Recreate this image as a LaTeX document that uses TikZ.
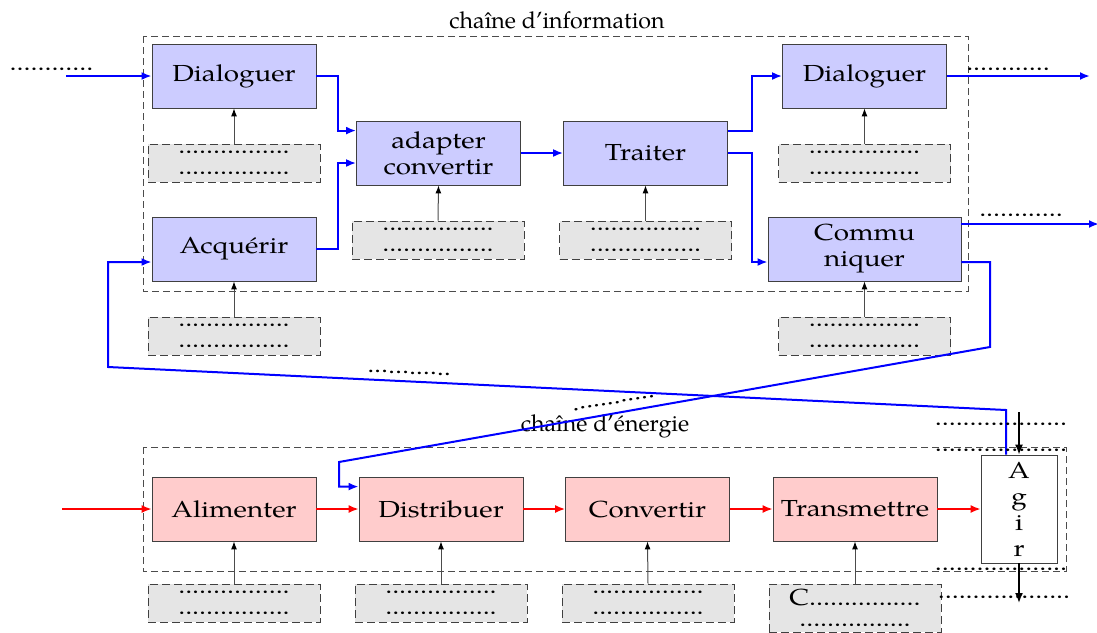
\documentclass[tikz,border=0pt]{standalone}
\usepackage{fontspec}
\setmainfont{texgyrepagella-regular.otf}
\newfontfamily\bfnt{texgyrepagella-regular.otf}[FakeStretch=1.2]
\usetikzlibrary{arrows.meta}
\newcommand{\bxf}{\bfnt\fontsize{11.6}{13}\selectfont}
\newcommand{\gxf}{\bfnt\fontsize{11.6}{10.5}\selectfont}
\newcommand{\dsix}{................}
\newcommand{\dtw}{............}
\newcommand{\dnn}{...................}
\begin{document}
\begin{tikzpicture}[x=0.5pt,y=-0.5pt,
  infobox/.style={draw=black!75, fill=blue!20, minimum width=82pt, minimum height=32pt, inner sep=0pt, align=center, font=\bxf},
  enbox/.style={infobox, fill=red!20},
  resbox/.style={draw=black!75, dash pattern=on 4pt off 2pt, fill=gray!20, minimum width=86pt, minimum height=19pt, inner sep=0pt, align=center, font=\gxf},
  cadre/.style={draw=black!70, dash pattern=on 3.3pt off 2.2pt, line width=0.5pt},
  bl/.style={blue, line width=1pt, -{Latex[length=5pt,width=4pt]}},
  rd/.style={red, line width=0.8pt, -{Latex[length=5pt,width=4pt]}},
  resarrow/.style={black!70, line width=0.5pt, -{Latex[length=4pt,width=3pt,color=black]}},
  blk/.style={black, line width=0.8pt, -{Latex[length=5pt,width=4pt]}},
  dotlab/.style={font=\bxf, inner sep=0pt, anchor=base},
  chainlab/.style={font=\fontsize{11.6}{13}\selectfont, inner sep=0pt, anchor=base},
]
\useasboundingbox (0,0) rectangle (1097,632);

% frames
\draw[cadre] (143,36) rectangle (968,291);
\draw[cadre] (143,447) rectangle (1066,571);
\node[chainlab] (tinfo) at (557,28) {chaîne d’information};
\node[chainlab] (tener) at (605,431) {chaîne d’énergie};

% information chain
\node[infobox] (dia1) at (234,76) {Dialoguer};
\node[infobox] (acq) at (234,249) {Acquérir};
\node[infobox] (adapt) at (438.5,153) {adapter\\convertir};
\node[infobox] (trait) at (645.5,153) {Traiter};
\node[infobox] (dia2) at (864.5,76) {Dialoguer};
\node[infobox, minimum width=96.5pt] (comm) at (864.5,249) {Commu\\niquer};

\node[resbox] (r1) at (234,163) {\dsix\\\dsix};
\node[resbox] (r2) at (438,240) {\dsix\\\dsix};
\node[resbox] (r3) at (645.5,240) {\dsix\\\dsix};
\node[resbox] (r4) at (864.5,163) {\dsix\\\dsix};
\node[resbox] (r5) at (234,336) {\dsix\\\dsix};
\node[resbox] (r6) at (864.5,336) {\dsix\\\dsix};

% energy chain
\node[enbox] (alim) at (234,509) {Alimenter};
\node[enbox] (dist) at (441,509) {Distribuer};
\node[enbox] (conv) at (647.5,509) {Convertir};
\node[enbox] (trans) at (855,509) {Transmettre};
\node[draw=black!75, fill=white, minimum width=38pt, minimum height=54pt, inner sep=0pt, align=center, font=\bxf] (agir) at (1019,509) {A\\g\\i\\r};

\node[resbox] (e1) at (234,603) {\dsix\\\dsix};
\node[resbox] (e2) at (441,603) {\dsix\\\dsix};
\node[resbox] (e3) at (648,603) {\dsix\\\dsix};
\node[resbox, minimum height=24pt] (e4) at (855,608) {C\dsix\\\dsix};

% resource arrows
\foreach \r/\b in {r1/dia1, r2/adapt, r3/trait, r4/dia2, r5/acq, r6/comm, e1/alim, e2/dist, e3/conv, e4/trans}
  \draw[resarrow] (\r.north) -- (\b.south);

% free ends
\coordinate (inA) at (66,76);
\coordinate (outA) at (1090,76);
\coordinate (outB) at (1099,224);
\coordinate (inE) at (62,509);
\coordinate (agIn) at (1019,412);
\coordinate (agOut) at (1019,603);

% blue connectors
\draw[bl] (inA) -- (dia1.west);
\draw[bl] (dia1.east) -- ++(22,0) |- ([yshift=-5pt]adapt.north west);
\draw[bl] (acq.east) -- ++(22,0) |- ([yshift=-5pt]adapt.west);
\draw[bl] (adapt.east) -- (trait.west);
\draw[bl] ([yshift=-5pt]trait.north east) -- ++(24,0) |- (dia2.west);
\draw[bl] (trait.east) -- ++(24,0) |- ([yshift=-6.5pt]comm.west);
\draw[bl] (dia2.east) -- (outA);
\draw[bl] ([yshift=12.5pt]comm.east) -- (outB);
\draw[bl] ([yshift=-6.5pt]comm.east) -- (990,262) -- (990,347) -- (339,462) |- ([yshift=-5pt]dist.north west);
\draw[bl] ([xshift=-6.5pt]agir.north) -- (1006,410) -- (108,367) |- ([yshift=-6.5pt]acq.west);

% red connectors
\draw[rd] (inE) -- (alim.west);
\draw[rd] (alim.east) -- (dist.west);
\draw[rd] (dist.east) -- (conv.west);
\draw[rd] (conv.east) -- (trans.west);
\draw[rd] (trans.east) -- (agir.west);

% agir arrows
\draw[blk] (agIn) -- (agir.north);
\draw[blk] (agir.south) -- (agOut);

% dotted labels
\node[dotlab] (l1) at (51.5,70) {\dtw};
\node[dotlab] (l2) at (1008,70) {\dtw};
\node[dotlab] (l3) at (1021,216) {\dtw};
\node[dotlab, rotate=-2.7] (l4) at (409,374) {\dtw};
\node[dotlab, rotate=9.8] (l5) at (614,404) {\dtw};
\node[dotlab] (l6) at (1001,425) {\dnn};
\node[dotlab] (l7) at (1001,451) {\dnn};
\node[dotlab] (l8) at (1001,570) {\dnn};
\node[dotlab] (l9) at (1004,598) {\dnn};
\end{tikzpicture}
\end{document}
